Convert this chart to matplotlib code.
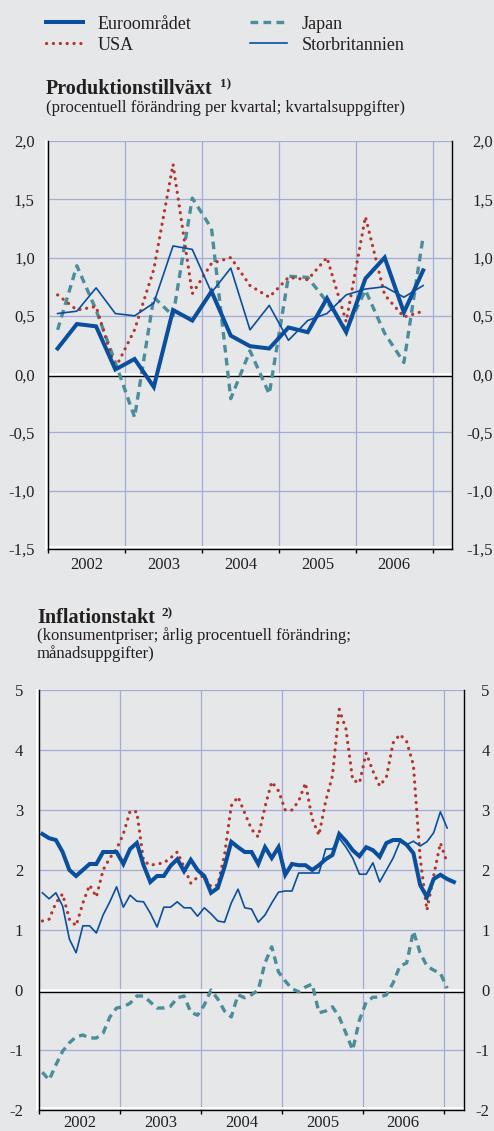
import numpy as np
import matplotlib
matplotlib.use("Agg")
import matplotlib.pyplot as plt
from matplotlib.lines import Line2D
from matplotlib.transforms import offset_copy, blended_transform_factory

# ---------------- data ----------------
quarters = [f"{y}Q{q}" for y in range(2002, 2007) for q in range(1, 5)]
gdp_euro = [0.22, 0.43, 0.41, 0.04, 0.13, -0.11, 0.55, 0.46, 0.71, 0.33,
            0.24, 0.22, 0.40, 0.36, 0.65, 0.36, 0.82, 1.00, 0.53, 0.89]
gdp_usa = [0.68, 0.55, 0.58, 0.05, 0.38, 0.90, 1.80, 0.69, 0.95, 1.00,
           0.76, 0.66, 0.83, 0.81, 1.00, 0.45, 1.35, 0.68, 0.49, 0.54]
gdp_japan = [0.38, 0.93, 0.55, 0.10, -0.37, 0.66, 0.50, 1.51, 1.25, -0.21,
             0.20, -0.17, 0.84, 0.83, 0.62, 0.38, 0.72, 0.35, 0.10, 1.18]
gdp_uk = [0.52, 0.54, 0.74, 0.52, 0.50, 0.61, 1.10, 1.07, 0.70, 0.91,
          0.38, 0.59, 0.29, 0.46, 0.52, 0.68, 0.73, 0.75, 0.66, 0.76]

cpi_euro = [2.60, 2.53, 2.50, 2.30, 2.00, 1.90, 2.00, 2.10, 2.10, 2.30, 2.30, 2.30,
            2.10, 2.35, 2.45, 2.08, 1.80, 1.90, 1.90, 2.07, 2.18, 1.98, 2.17, 2.00,
            1.90, 1.62, 1.70, 2.05, 2.47, 2.38, 2.30, 2.30, 2.10, 2.38, 2.20, 2.38,
            1.92, 2.10, 2.08, 2.08, 2.00, 2.08, 2.18, 2.25, 2.60, 2.48, 2.33, 2.23,
            2.38, 2.33, 2.22, 2.45, 2.50, 2.50, 2.42, 2.28, 1.75, 1.55, 1.85, 1.92,
            1.85, 1.80]
cpi_usa = [1.15, 1.18, 1.45, 1.60, 1.18, 1.07, 1.45, 1.75, 1.55, 2.00, 2.20, 2.35,
           2.60, 2.98, 2.97, 2.15, 2.08, 2.10, 2.12, 2.20, 2.30, 2.05, 1.78, 1.88,
           1.90, 1.72, 1.75, 2.25, 3.07, 3.22, 2.95, 2.68, 2.55, 3.05, 3.47, 3.32,
           3.00, 3.00, 3.15, 3.45, 2.85, 2.58, 3.15, 3.57, 4.68, 4.35, 3.50, 3.45,
           3.95, 3.65, 3.40, 3.55, 4.12, 4.26, 4.14, 3.75, 2.20, 1.33, 1.90, 2.45,
           2.12]
cpi_japan = [-1.37, -1.50, -1.25, -1.02, -0.88, -0.78, -0.75, -0.80, -0.80, -0.72, -0.45, -0.30,
             -0.28, -0.22, -0.10, -0.10, -0.20, -0.30, -0.30, -0.27, -0.13, -0.10, -0.37, -0.42,
             -0.25, 0.00, -0.15, -0.35, -0.45, -0.08, -0.13, -0.08, 0.00, 0.45, 0.72, 0.30,
             0.15, 0.02, -0.03, 0.05, 0.10, -0.38, -0.35, -0.28, -0.45, -0.72, -1.00, -0.50,
             -0.20, -0.12, -0.12, -0.08, 0.12, 0.40, 0.45, 0.98, 0.62, 0.40, 0.33, 0.28,
             0.03]
cpi_uk = [1.62, 1.52, 1.62, 1.40, 0.85, 0.62, 1.07, 1.07, 0.95, 1.25, 1.47, 1.72,
          1.38, 1.58, 1.48, 1.47, 1.28, 1.05, 1.38, 1.38, 1.47, 1.37, 1.37, 1.23,
          1.37, 1.27, 1.15, 1.13, 1.45, 1.68, 1.37, 1.35, 1.13, 1.25, 1.45, 1.63,
          1.65, 1.65, 1.95, 1.95, 1.95, 1.95, 2.35, 2.35, 2.53, 2.38, 2.20, 1.93,
          1.93, 2.12, 1.80, 2.00, 2.20, 2.47, 2.42, 2.48, 2.40, 2.47, 2.62, 2.97,
          2.70]

years = [2002, 2003, 2004, 2005, 2006]
series_names = ["Euroområdet", "USA", "Japan", "Storbritannien"]
gdp_ticks = [-1.5, -1.0, -0.5, 0.0, 0.5, 1.0, 1.5, 2.0]
cpi_ticks = [-2, -1, 0, 1, 2, 3, 4, 5]

# ---------------- style ----------------
plt.rcParams["font.family"] = ["Liberation Serif", "DejaVu Serif"]
W, H = 494, 1131
BG = "#e6e7e8"
GRID = "#a3acd8"
BLUE = "#0a4f9e"
RED = "#b3352c"
TEAL = "#4b8d9a"
TXT = "#231f20"

fig = plt.figure(figsize=(W / 100, H / 100), dpi=100)
fig.patch.set_facecolor(BG)


def fx(px):
    return px / W


def fy(py):
    return 1 - py / H


def rect(l, t, r, b):
    return [l / W, 1 - b / H, (r - l) / W, (b - t) / H]


STY = {
    "Euroområdet": dict(color=BLUE, lw=2.9, solid_joinstyle="miter", zorder=6),
    "USA": dict(color=RED, lw=2.3, linestyle=(0, (0.05, 2.1)), dash_capstyle="round", zorder=4),
    "Japan": dict(color=TEAL, lw=2.4, linestyle=(0, (2.3, 1.6)), dash_capstyle="butt", zorder=3),
    "Storbritannien": dict(color=BLUE, lw=1.2, zorder=5),
}


def setup(ax, ticks, fmt, left_pad, right_pad, xpad):
    ax.set_facecolor(BG)
    ax.set_xlim(2002.03, 2007.25)
    ax.set_ylim(ticks[0], ticks[-1])
    ax.spines["top"].set_visible(False)
    for s in ("left", "right", "bottom"):
        ax.spines[s].set_color("black")
        ax.spines[s].set_linewidth(1.0)
    ax.set_xticks(range(2002, 2008))
    ax.set_xticks([y + 0.5 for y in years], minor=True)
    ax.set_xticklabels([], minor=False)
    ax.set_xticklabels([str(y) for y in years], minor=True)
    ax.tick_params(axis="x", which="major", direction="out", length=3, width=1,
                   color="black", labelbottom=False)
    ax.tick_params(axis="x", which="minor", length=0, pad=xpad, labelsize=12,
                   labelcolor=TXT)
    ax.set_yticks(ticks)
    ax.set_yticklabels([fmt(t) for t in ticks])
    ax.tick_params(axis="y", length=0, pad=left_pad, labelsize=12, labelcolor=TXT)
    ax.grid(True, which="major", color=GRID, lw=0.9, zorder=0)
    ax.set_axisbelow(True)
    # right labels (right-aligned near figure edge)
    tw = ax.twinx()
    tw.set_ylim(ax.get_ylim())
    tw.set_yticks(ticks)
    tw.set_yticklabels([fmt(t) for t in ticks])
    tw.tick_params(axis="y", length=0, pad=right_pad, labelsize=12, labelcolor=TXT)
    for lab in tw.get_yticklabels():
        lab.set_horizontalalignment("right")
    for s in tw.spines.values():
        s.set_visible(False)
    # white highlight lines next to left and bottom spines
    ax.plot([0, 0], [0, 1], transform=offset_copy(ax.transAxes, fig, x=-2, units="dots"),
            color="white", lw=1.4, clip_on=False, zorder=1)
    ax.plot([0, 1], [0, 0], transform=offset_copy(ax.transAxes, fig, y=2.2, units="dots"),
            color="white", lw=1.4, clip_on=False, zorder=1)
    # zero line: white over black
    bt = blended_transform_factory(ax.transAxes, ax.transData)
    ax.plot([0, 1], [0, 0], transform=bt, color="white", lw=1.8, zorder=2)
    ax.plot([0, 1], [0, 0], transform=offset_copy(bt, fig, y=-2, units="dots"),
            color="black", lw=1.0, zorder=2)


# ---------------- top chart ----------------
ax1 = fig.add_axes(rect(48, 141, 452, 549))
setup(ax1, gdp_ticks, lambda v: f"{v:.1f}".replace(".", ","), 9.5, 29.5, 5.5)
qx = [int(s[:4]) + (int(s[-1]) - 0.5) / 4 for s in quarters]
ax1.plot(qx, gdp_japan, **STY["Japan"])
ax1.plot(qx, gdp_usa, **STY["USA"])
ax1.plot(qx, gdp_uk, **STY["Storbritannien"])
ax1.plot(qx, gdp_euro, **STY["Euroområdet"])

# ---------------- bottom chart ----------------
ax2 = fig.add_axes(rect(39, 690, 464, 1110))
setup(ax2, cpi_ticks, lambda v: f"{v:d}", 11.5, 18.5, 3.5)
mx_e = [2002 + (i + 0.5) / 12 for i in range(len(cpi_euro))]
mx = [2002 + (i + 0.5) / 12 for i in range(len(cpi_usa))]
ax2.plot(mx, cpi_japan, **STY["Japan"])
ax2.plot(mx, cpi_usa, **STY["USA"])
ax2.plot(mx, cpi_uk, **STY["Storbritannien"])
ax2.plot(mx_e, cpi_euro, **STY["Euroområdet"])

# ---------------- legend ----------------
leg_pos = {
    "Euroområdet": (46, 83, 21.7, 98, 29.3),
    "USA": (46, 83, 43.3, 98, 50.3),
    "Japan": (250, 287, 21.7, 302, 29.3),
    "Storbritannien": (250, 287, 43.3, 302, 50.3),
}
for name in series_names:
    x0, x1, ly, tx, ty = leg_pos[name]
    st = dict(STY[name])
    st.pop("zorder", None)
    fig.add_artist(Line2D([fx(x0), fx(x1)], [fy(ly), fy(ly)], transform=fig.transFigure, **st))
    fig.text(fx(tx), fy(ty), name, fontsize=13, color=TXT, va="baseline", ha="left")

# ---------------- titles ----------------
fig.text(fx(46), fy(94), "Produktionstillväxt", fontsize=14.5, fontweight="bold",
         color=TXT, va="baseline")
fig.text(fx(220), fy(87), "1)", fontsize=9.5, fontweight="bold", color=TXT, va="baseline")
fig.text(fx(46), fy(111.5), "(procentuell förändring per kvartal; kvartalsuppgifter)",
         fontsize=12, color=TXT, va="baseline")

fig.text(fx(37), fy(623), "Inflationstakt", fontsize=14.5, fontweight="bold",
         color=TXT, va="baseline")
fig.text(fx(162), fy(616), "2)", fontsize=9.5, fontweight="bold", color=TXT, va="baseline")
fig.text(fx(37), fy(640.5), "(konsumentpriser; årlig procentuell förändring;",
         fontsize=12, color=TXT, va="baseline")
fig.text(fx(37), fy(658.5), "månadsuppgifter)", fontsize=12, color=TXT, va="baseline")

fig.savefig("out.png", dpi=100, facecolor=BG)
